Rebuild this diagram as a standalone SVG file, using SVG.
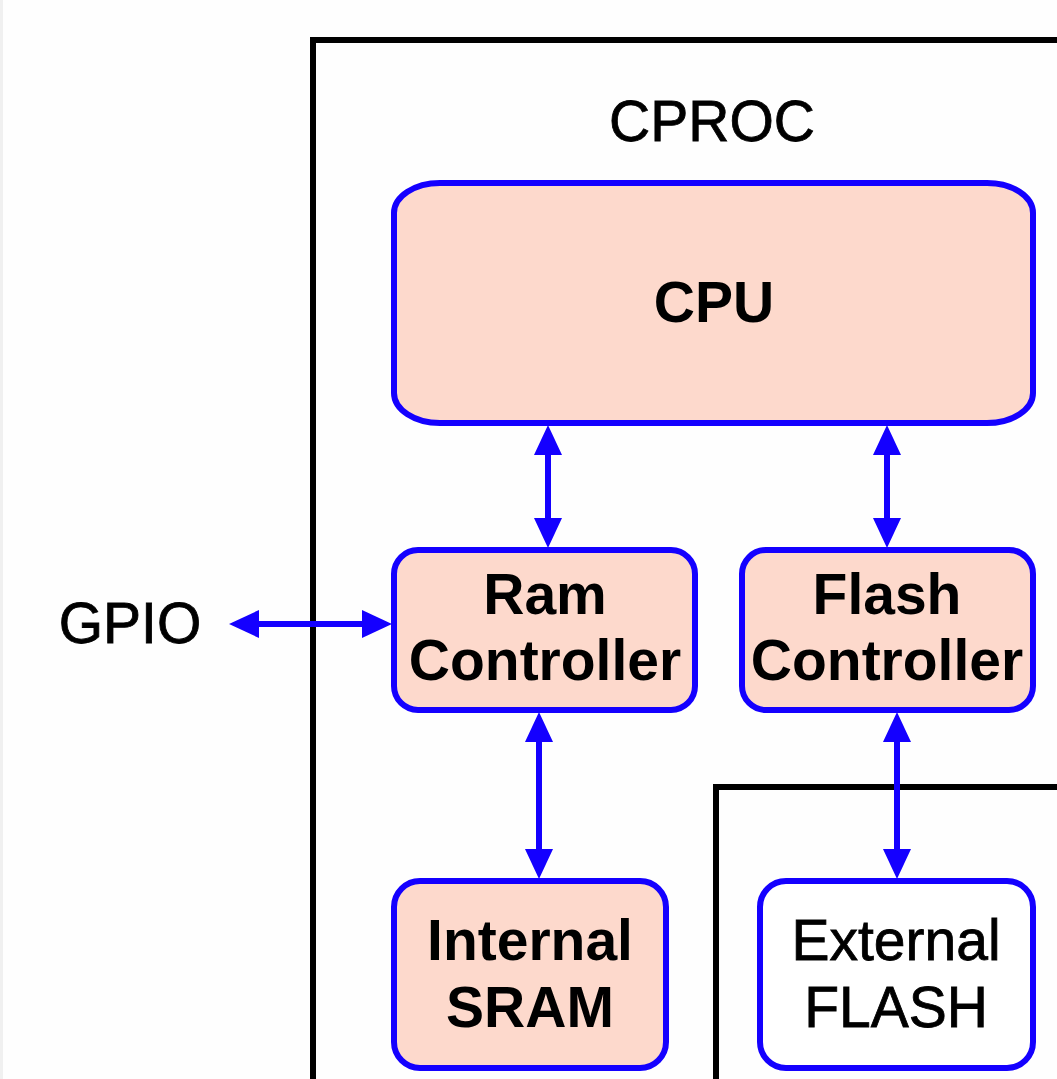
<svg xmlns="http://www.w3.org/2000/svg" width="1057" height="1079" viewBox="0 0 1057 1079">
  <defs>
    <style>
      .frame { fill: none; stroke: #000; stroke-width: 6; }
      .box { fill: #fdd9cc; stroke: #1400ff; stroke-width: 6; }
      .box-white { fill: #fff; stroke: #1400ff; stroke-width: 6; }
      .conn { fill: none; stroke: #1400ff; stroke-width: 6; marker-start: url(#ah); marker-end: url(#ah); }
      .t { font-family: "Liberation Sans", Arial, sans-serif; font-size: 57px; fill: #000; text-anchor: middle; }
      .r { stroke: #000; stroke-width: 0.8; }
      .b { font-weight: bold; }
    </style>
    <marker id="ah" viewBox="0 0 30 28" refX="15" refY="14" markerWidth="30" markerHeight="28" markerUnits="userSpaceOnUse" orient="auto-start-reverse">
      <path d="M0,0 L30,14 L0,28 z" fill="#1400ff"/>
    </marker>
  </defs>
  <rect x="0" y="0" width="1057" height="1079" fill="#fefefe"/>
  <rect x="0" y="0" width="3" height="1079" fill="#f0f0f0"/>

  <g id="cproc">
    <path class="frame" d="M313,1085 L313,40 L1062,40"/>
    <text class="t r" x="712" y="141">CPROC</text>
  </g>
  <g id="ext-frame">
    <path class="frame" d="M716,1085 L716,787 L1062,787"/>
  </g>

  <g id="connectors">
    <path class="conn" d="M548,440 L548,533"/>
    <path class="conn" d="M887,440 L887,533"/>
    <path class="conn" d="M539,727 L539,864"/>
    <path class="conn" d="M897,727 L897,864"/>
    <path class="conn" d="M244,624 L377,624"/>
  </g>

  <g id="cpu">
    <rect class="box" x="394" y="183" width="639" height="240" rx="46" ry="30"/>
    <text class="t b" x="714" y="322">CPU</text>
  </g>
  <g id="ram-controller">
    <rect class="box" x="394" y="550" width="301" height="160" rx="24" ry="24"/>
    <text class="t b" x="545" y="614">Ram</text>
    <text class="t b" x="545" y="680">Controller</text>
  </g>
  <g id="flash-controller">
    <rect class="box" x="742" y="550" width="291" height="160" rx="24" ry="24"/>
    <text class="t b" x="887" y="614">Flash</text>
    <text class="t b" x="887" y="680">Controller</text>
  </g>
  <g id="internal-sram">
    <rect class="box" x="394" y="881" width="272" height="187" rx="26" ry="26"/>
    <text class="t b" x="530" y="960">Internal</text>
    <text class="t b" x="530" y="1027">SRAM</text>
  </g>
  <g id="external-flash">
    <rect class="box-white" x="760" y="881" width="273" height="187" rx="26" ry="26"/>
    <text class="t r" x="896" y="960">External</text>
    <text class="t r" x="896" y="1027">FLASH</text>
  </g>
  <g id="gpio">
    <text class="t r" x="130" y="643">GPIO</text>
  </g>
</svg>
